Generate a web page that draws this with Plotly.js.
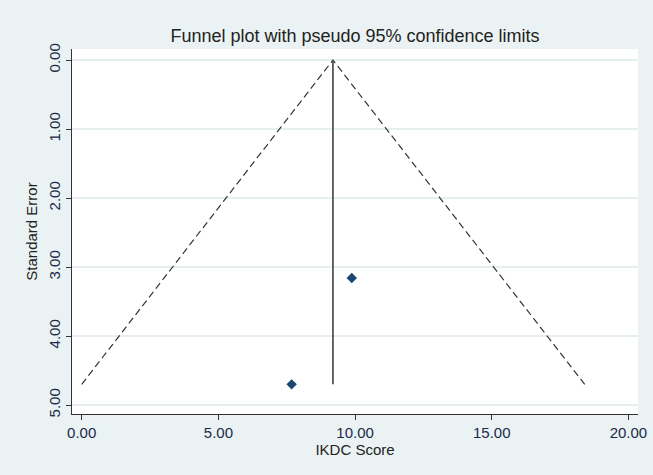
<!DOCTYPE html>
<html>
<head>
<meta charset="utf-8">
<script src="https://cdn.plot.ly/plotly-3.0.1.min.js"></script>
<style>
html,body{margin:0;padding:0;background:#eaf2f3;}
#chart{width:653px;height:475px;}
</style>
</head>
<body>
<div id="chart"></div>
<script>
// Study estimates (IKDC score effect) and their standard errors
var studyEffect = [9.88, 7.68];
var studySE = [3.16, 4.70];
// Pooled (fixed-effect) estimate line
var pooledX = [9.19, 9.19];
var pooledSE = [0, 4.70];
// Pseudo 95% confidence limits (funnel)
var funnelX = [0.00, 9.19, 18.40];
var funnelSE = [4.70, 0, 4.70];
// Axis ticks
var xTicks = [0, 5, 10, 15, 20];
var yTicks = [0, 1, 2, 3, 4, 5];

var font = "Liberation Sans, Arial, sans-serif";

var traces = [
  {x: funnelX, y: funnelSE, type: 'scatter', mode: 'lines',
   line: {color: '#333333', width: 1.2, dash: '7px,4px'}, hoverinfo: 'skip'},
  {x: pooledX, y: pooledSE, type: 'scatter', mode: 'lines',
   line: {color: '#555555', width: 1.8}, hoverinfo: 'skip'},
  {x: studyEffect, y: studySE, type: 'scatter', mode: 'markers',
   marker: {symbol: 'diamond', size: 8, color: '#1a476f'}}
];

var layout = {
  width: 653, height: 475,
  paper_bgcolor: '#eaf2f3',
  plot_bgcolor: '#ffffff',
  showlegend: false,
  margin: {l: 72, r: 15, t: 49, b: 61},
  font: {family: font, color: '#222222', size: 15},
  title: {text: 'Funnel plot with pseudo 95% confidence limits',
          font: {family: font, size: 18, color: '#222222'},
          xref: 'paper', x: 0.5, xanchor: 'center', y: 0.925, yanchor: 'middle'},
  xaxis: {
    range: [-0.355, 20.35], tickvals: xTicks, tickformat: '.2f',
    showgrid: false, zeroline: false,
    showline: true, linecolor: '#333333', linewidth: 1,
    ticks: 'outside', ticklen: 5, tickcolor: '#333333',
    tickfont: {size: 15, color: '#1a2a4a'},
    title: {text: 'IKDC Score', font: {size: 15, color: '#222222'}, standoff: 0}
  },
  yaxis: {
    range: [5.13, -0.16], tickvals: yTicks, tickformat: '.2f', tickangle: -90,
    showgrid: true, gridcolor: '#e6eef0', gridwidth: 1.2, zeroline: false,
    showline: true, linecolor: '#333333', linewidth: 1,
    ticks: 'outside', ticklen: 5, tickcolor: '#333333',
    tickfont: {size: 15, color: '#1a2a4a'},
    title: {text: 'Standard Error', font: {size: 15, color: '#222222'}, standoff: 4}
  }
};

Plotly.newPlot('chart', traces, layout, {displayModeBar: false, staticPlot: true});
</script>
</body>
</html>
